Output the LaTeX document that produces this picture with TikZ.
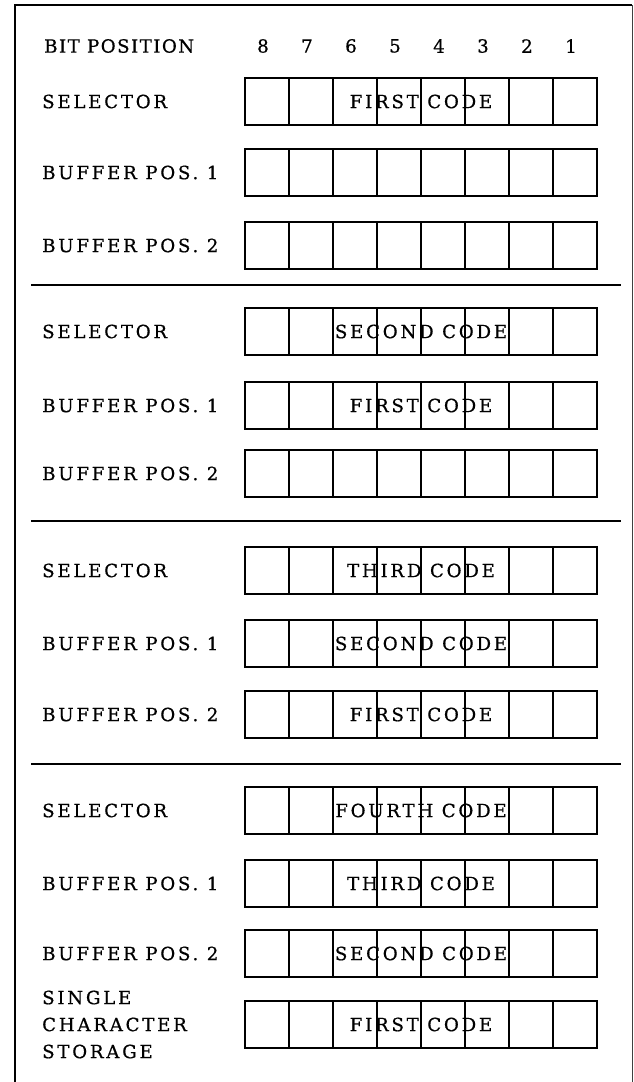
\documentclass[tikz,border=0pt]{standalone}
\usepackage{fontspec}
\setmainfont{DejaVu Serif}[LetterSpace=15,FakeBold=0.6]
\tikzset{
  regtext/.style = {inner sep=0pt, font=\fontsize{18.2}{27}\selectfont},
  rowlabel/.style = {regtext, anchor=west, align=left},
  headlabel/.style = {rowlabel, font=\fontsize{18.2}{27}\selectfont\addfontfeature{LetterSpace=8}},
  register/.style = {draw, line width=1.6pt},
  celldiv/.style = {line width=1.2pt},
  sectionline/.style = {line width=1.8pt}
}

\begin{document}
\begin{tikzpicture}[x=1pt,y=-1pt]
  \pgfmathsetmacro{\cell}{44}
  \pgfmathsetmacro{\height}{47}
  \useasboundingbox (0,0) rectangle (634,1082);
  % frame
  \draw[line width=2pt] (15,1082) -- (15,5) -- (632,5);
  \draw[line width=0.9pt,black!75] (632,5) -- (632,1082);
  % header
  \node[headlabel] (bitpos) at (44,46) {BIT POSITION};
  \foreach \b in {1,...,8}
    \node[regtext] (bit\b) at ({245+(8.5-\b)*\cell-4},46) {\b};
  % registers
  \foreach \y/\lab/\code/\nm in {
      78/SELECTOR/FIRST CODE/selA,
      149/BUFFER POS. 1/{}/bufAa,
      222/BUFFER POS. 2/{}/bufAb,
      308/SELECTOR/SECOND CODE/selB,
      382/BUFFER POS. 1/FIRST CODE/bufBa,
      450/BUFFER POS. 2/{}/bufBb,
      547/SELECTOR/THIRD CODE/selC,
      620/BUFFER POS. 1/SECOND CODE/bufCa,
      691/BUFFER POS. 2/FIRST CODE/bufCb,
      787/SELECTOR/FOURTH CODE/selD,
      860/BUFFER POS. 1/THIRD CODE/bufDa,
      930/BUFFER POS. 2/SECOND CODE/bufDb,
      1001/{SINGLE\\CHARACTER\\STORAGE}/FIRST CODE/storD}{
    \node[rowlabel] (\nm) at (42,\y+\height/2) {\lab};
    \draw[register] (245,\y) rectangle ++({8*\cell},\height);
    \foreach \i in {1,...,7}
      \draw[celldiv] ({245+\i*\cell},\y) -- ++(0,\height);
    \node[regtext] (\nm-code) at ({245+4*\cell},\y+\height/2) {\code};
  }
  % section lines
  \foreach \y in {285,521,764}
    \draw[sectionline] (31,\y) -- (621,\y);
\end{tikzpicture}
\end{document}
